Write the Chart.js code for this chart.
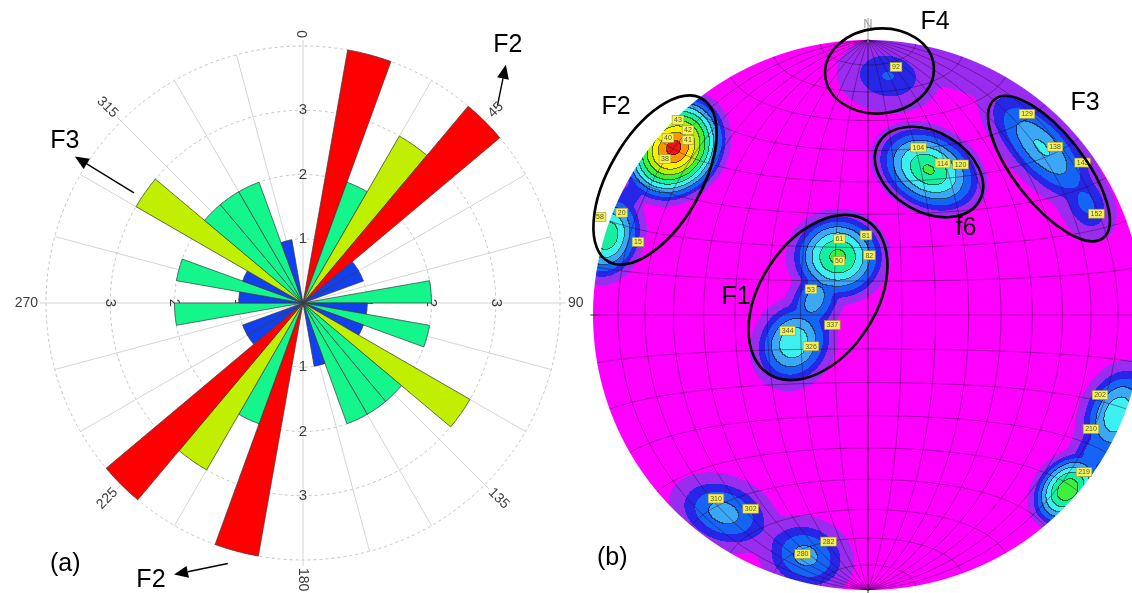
<!DOCTYPE html>
<html>
<head>
<meta charset="utf-8">
<script src="https://cdn.jsdelivr.net/npm/chart.js@4.4.1/dist/chart.umd.min.js"></script>
<style>
  html, body { margin: 0; padding: 0; width: 1132px; height: 593px; overflow: hidden; background: #fff; }
  canvas { position: absolute; top: 0; }
  #rose { left: 0; }
  #net { left: 590px; }
  .panel { position: absolute; font: 25px "Liberation Sans", Arial, sans-serif; color: #000; }
</style>
</head>
<body>
<canvas id="rose" width="606" height="593"></canvas>
<canvas id="net" width="553" height="593"></canvas>
<div class="panel" style="left:50px; top:548px;">(a)</div>
<div class="panel" style="left:597px; top:542px;">(b)</div>
<script>
// ---------- (a) rose diagram of joint strikes, 10° bins clockwise from north ----------
const binLabels = ['0','10','20','30','40','50','60','70','80','90','100','110','120','130','140','150','160','170',
                   '180','190','200','210','220','230','240','250','260','270','280','290','300','310','320','330','340','350'];
const binCounts = [0, 4, 2, 3, 4, 1, 1, 0, 2, 1, 2, 1, 3, 2, 2, 2, 1, 0,
                   0, 4, 2, 3, 4, 1, 1, 0, 2, 1, 2, 1, 3, 2, 2, 2, 1, 0];
const countColors = ['#ffffff', '#1040f0', '#14f58c', '#c0f000', '#ff0000'];
const ringTicks = [1, 2, 3];
const compassTicks = [0, 45, 90, 135, 180, 225, 270, 315];

// arrows pointing out the main joint sets: [bearing°, radius in count units]
const roseArrows = [
  { text: 'F2', from: [44.5, 4.32], to: [40.4, 4.87], label: [38.5, 5.12] },
  { text: 'F3', from: [303.1, 3.14], to: [302.7, 4.22], label: [304.2, 4.48] },
  { text: 'F2', from: [196.1, 4.22], to: [205.4, 4.68], label: [208.75, 4.92] }
];

const FONT = '"Liberation Sans", Arial, sans-serif';

function polarPoint(s, deg, val) {
  const r = s.getDistanceFromCenterForValue(val);
  const t = (deg - 90) * Math.PI / 180;
  return [s.xCenter + r * Math.cos(t), s.yCenter + r * Math.sin(t)];
}

function drawArrow(ctx, p0, p1) {
  const ang = Math.atan2(p1[1] - p0[1], p1[0] - p0[0]);
  const hl = 14, hw = 6;
  const bx = p1[0] - hl * Math.cos(ang), by = p1[1] - hl * Math.sin(ang);
  ctx.beginPath();
  ctx.moveTo(p0[0], p0[1]);
  ctx.lineTo(bx, by);
  ctx.stroke();
  ctx.beginPath();
  ctx.moveTo(p1[0], p1[1]);
  ctx.lineTo(bx + hw * Math.sin(ang), by - hw * Math.cos(ang));
  ctx.lineTo(bx - hw * Math.sin(ang), by + hw * Math.cos(ang));
  ctx.closePath();
  ctx.fill();
}

const roseDecor = {
  id: 'roseDecor',
  beforeDatasetsDraw(chart) {
    const s = chart.scales.r, ctx = chart.ctx;
    ctx.save();
    // spokes every 15°
    ctx.strokeStyle = '#d4d4d4';
    ctx.lineWidth = 1;
    for (let a = 0; a < 360; a += 15) {
      const labelled = compassTicks.includes(a);
      const p = polarPoint(s, a, s.max + (labelled ? 6 / 64.25 : 0));
      ctx.beginPath();
      ctx.moveTo(s.xCenter, s.yCenter);
      ctx.lineTo(p[0], p[1]);
      ctx.stroke();
    }
    // ring values along the four main directions
    ctx.fillStyle = '#3c3c3c';
    ctx.font = '15px ' + FONT;
    ctx.textAlign = 'center';
    ctx.textBaseline = 'middle';
    for (const v of ringTicks) {
      for (const a of [0, 90, 180, 270]) {
        const p = polarPoint(s, a, v);
        ctx.save();
        ctx.translate(p[0], p[1]);
        if (a === 90 || a === 270) ctx.rotate(Math.PI / 2);
        ctx.fillText(String(v), 0, 0);
        ctx.restore();
      }
    }
    ctx.restore();
  },
  afterDatasetsDraw(chart) {
    const s = chart.scales.r, ctx = chart.ctx;
    const R = s.getDistanceFromCenterForValue(s.max);
    ctx.save();
    // compass bearings, written along the radius
    ctx.fillStyle = '#3c3c3c';
    ctx.font = '14px ' + FONT;
    ctx.textAlign = 'center';
    ctx.textBaseline = 'middle';
    for (const a of compassTicks) {
      const txt = String(a);
      const w = ctx.measureText(txt).width;
      const r = R + 8 + w / 2;
      const t = (a - 90) * Math.PI / 180;
      let rot = a - 90;
      if (rot > 90) rot -= 180;
      if (rot < -90) rot += 180;
      ctx.save();
      ctx.translate(s.xCenter + r * Math.cos(t), s.yCenter + r * Math.sin(t));
      ctx.rotate(rot * Math.PI / 180);
      ctx.fillText(txt, 0, 0);
      ctx.restore();
    }
    // joint set arrows
    ctx.strokeStyle = '#000';
    ctx.fillStyle = '#000';
    ctx.lineWidth = 1.4;
    ctx.font = '25px ' + FONT;
    for (const ar of roseArrows) {
      drawArrow(ctx, polarPoint(s, ar.from[0], ar.from[1]), polarPoint(s, ar.to[0], ar.to[1]));
      const lp = polarPoint(s, ar.label[0], ar.label[1]);
      ctx.fillText(ar.text, lp[0], lp[1]);
    }
    ctx.restore();
  }
};

new Chart(document.getElementById('rose'), {
  type: 'polarArea',
  data: {
    labels: binLabels,
    datasets: [{
      data: binCounts,
      backgroundColor: binCounts.map(c => countColors[c]),
      borderColor: '#3a3a3a',
      borderWidth: 0.7
    }]
  },
  options: {
    responsive: false,
    animation: false,
    events: [],
    layout: { padding: { left: 46, right: 46, top: 46, bottom: 33 } },
    plugins: { legend: { display: false }, tooltip: { enabled: false } },
    scales: {
      r: {
        min: 0, max: 4, startAngle: 0,
        ticks: { display: false, stepSize: 1 },
        grid: { circular: true, color: '#c4c4c4', lineWidth: 1 },
        border: { dash: [3, 3] },
        angleLines: { display: false },
        pointLabels: { display: false }
      }
    }
  },
  plugins: [roseDecor]
});

// ---------- (b) pole density on the lower-hemisphere equal-area net ----------
// density peaks (net coordinates, primitive radius = 1): peak contour level,
// semi-axes where the density fades out, and tilt of the long axis
const densX    = [-0.7055, -0.9491, -0.8655, 0.0727, 0.2218, 0.6327, 0.7927, -0.1091, -0.2691, -0.1927, -0.5236, -0.2255, -0.3636, 0.9091, 0.7273, 0.8255, 0.3345];
const densY    = [ 0.6073,  0.2873,  0.4327, 0.8691, 0.5273, 0.6073, 0.4073,  0.2109, -0.1018,  0.0545, -0.72,   -0.8764, -0.7964, -0.3636, -0.6364, -0.4982, 0.8909];
const densPeak = [ 11.5,    7.0,     3.0,    3.1,    7.2,    5.2,    3.4,     7.4,     6.0,     4.7,     4.6,     4.5,     1.8,     6.0,     8.0,     3.8,    1.5];
const densA    = [ 0.2327,  0.1891,  0.1236, 0.2036, 0.2327, 0.3273, 0.16,    0.1964,  0.1891,  0.1745,  0.2182,  0.1891,  0.1236,  0.2182,  0.1745,  0.16,   0.2727];
const densB    = [ 0.1964,  0.1455,  0.0655, 0.1455, 0.1673, 0.1382, 0.1091,  0.1818,  0.16,    0.1091,  0.1455,  0.1527,  0.08,    0.1527,  0.1309,  0.1018, 0.0873];
const densTilt = [ 49,      73,      55,     -8,     -28,    -47,    -65,     0,       60,      63,      -20,     -20,     -30,     68,      49,      60,     -21];

// contour band colours, lowest to highest
const bandColors = ['#ff00ff', '#9a2cf0', '#2626e6', '#1464f5', '#3ca8f5', '#3cf0f0',
                    '#14f0a0', '#3cf03c', '#b4f000', '#faf000', '#ff9600', '#f01414'];

// numbered poles
const poleIds = ['43', '42', '41', '40', '38', '58', '20', '15', '92', '104', '114', '120',
                 '129', '138', '145', '152', '61', '81', '82', '50', '53', '337', '344', '326',
                 '310', '302', '282', '280', '202', '210', '219'];
const poleX = [-0.6909, -0.6545, -0.6545, -0.7273, -0.7382, -0.9745, -0.8956, -0.8364, 0.1018, 0.1833, 0.2713, 0.3364,
               0.5782, 0.68, 0.7804, 0.8305, -0.1044, -0.0073, 0.0047, -0.1055, -0.2073, -0.1298, -0.292, -0.2073,
               -0.5527, -0.4265, -0.1436, -0.2378, 0.8436, 0.8109, 0.7855];
const poleY = [0.7091, 0.6727, 0.6364, 0.6436, 0.5673, 0.3564, 0.372, 0.2655, 0.9018, 0.6091, 0.5513, 0.5473,
               0.7309, 0.612, 0.5542, 0.3684, 0.2764, 0.2898, 0.2171, 0.1964, 0.0935, -0.0364, -0.0571, -0.1138,
               -0.6673, -0.7044, -0.824, -0.8691, -0.2909, -0.4145, -0.5709];

// outlined pole groups: centre, semi-axes, tilt (deg, counter-clockwise), label anchor
const groupNames = ['F4', 'F2', 'F1', 'f6', 'F3'];
const groupCx    = [0.0418, -0.7745, -0.1818, 0.2218, 0.6582];
const groupCy    = [0.8873,  0.4909,  0.0636, 0.52,   0.5327];
const groupA     = [0.1982,  0.3418,  0.3309, 0.2109, 0.32];
const groupB     = [0.1545,  0.1673,  0.2109, 0.1455, 0.1273];
const groupTilt  = [5, 60, 57, -30, -52];
const groupLx    = [0.2436, -0.9164, -0.48,  0.3564, 0.7891];
const groupLy    = [1.0655,  0.7564,  0.0655, 0.3164, 0.7709];

function hexRgb(h) {
  return [parseInt(h.slice(1, 3), 16), parseInt(h.slice(3, 5), 16), parseInt(h.slice(5, 7), 16)];
}

// contour level at a net point: smooth maximum of the peak profiles
function levelAt(x, y, ct, st) {
  const T = 0.35;
  let sum = 0;
  for (let k = 0; k < densX.length; k++) {
    const dx = x - densX[k], dy = y - densY[k];
    const u = (dx * ct[k] + dy * st[k]) / densA[k];
    const v = (-dx * st[k] + dy * ct[k]) / densB[k];
    const rho = Math.sqrt(u * u + v * v);
    if (rho > 1.6) continue;
    const lev = densPeak[k] * (1 - Math.pow(rho, 1.5));
    sum += Math.exp(lev / T);
  }
  return sum > 0 ? T * Math.log(sum) : -1;
}

// lowest contour sits close to zero density, the rest are whole levels
function bandOf(lev, top) {
  if (lev < 0.35) return 0;
  if (lev < 2) return 1;
  return Math.min(top, Math.floor(lev));
}

function drawDensity(chart) {
  const { ctx, chartArea: a, scales: { x: sx, y: sy } } = chart;
  const x0 = Math.floor(a.left), y0 = Math.floor(a.top);
  const W = Math.ceil(a.right) - x0, H = Math.ceil(a.bottom) - y0;
  const ppu = Math.abs(sx.getPixelForValue(1) - sx.getPixelForValue(0));
  const vx = new Float64Array(W), vy = new Float64Array(H);
  for (let i = 0; i < W; i++) vx[i] = sx.getValueForPixel(x0 + i + 0.5);
  for (let j = 0; j < H; j++) vy[j] = sy.getValueForPixel(y0 + j + 0.5);
  const ct = densTilt.map(t => Math.cos(t * Math.PI / 180));
  const st = densTilt.map(t => Math.sin(t * Math.PI / 180));
  const top = bandColors.length - 1;
  const band = new Int8Array(W * H).fill(-1);
  const cover = new Float32Array(W * H);
  for (let j = 0; j < H; j++) {
    for (let i = 0; i < W; i++) {
      const x = vx[i], y = vy[j];
      const r = Math.hypot(x, y);
      const c = Math.min(1, Math.max(0, (1 - r) * ppu + 0.5));
      if (c <= 0) continue;
      const idx = j * W + i;
      band[idx] = bandOf(levelAt(x, y, ct, st), top);
      cover[idx] = c;
    }
  }
  const rgb = bandColors.map(hexRgb);
  const img = ctx.createImageData(W, H);
  const px = img.data;
  for (let j = 0; j < H; j++) {
    for (let i = 0; i < W; i++) {
      const idx = j * W + i;
      const b = band[idx];
      if (b < 0) continue;
      let [r, g, bl] = rgb[b];
      const rt = i + 1 < W ? band[idx + 1] : b;
      const dn = j + 1 < H ? band[idx + W] : b;
      if ((rt >= 0 && rt !== b && Math.max(rt, b) >= 4) || (dn >= 0 && dn !== b && Math.max(dn, b) >= 4)) {
        r *= 0.45; g *= 0.45; bl *= 0.45;
      }
      px[4 * idx] = r; px[4 * idx + 1] = g; px[4 * idx + 2] = bl;
      px[4 * idx + 3] = Math.round(255 * cover[idx]);
    }
  }
  const off = document.createElement('canvas');
  off.width = W; off.height = H;
  off.getContext('2d').putImageData(img, 0, 0);
  ctx.drawImage(off, x0, y0);
}

// equal-area projection of a lower-hemisphere unit vector (east, north, down)
function project(e, n, d) {
  const k = 1 / Math.sqrt(1 + d);
  return [e * k, n * k];
}

function strokeNetPath(chart, pts) {
  const { ctx, scales: { x: sx, y: sy } } = chart;
  ctx.beginPath();
  pts.forEach(([x, y], i) => {
    const X = sx.getPixelForValue(x), Y = sy.getPixelForValue(y);
    if (i) ctx.lineTo(X, Y); else ctx.moveTo(X, Y);
  });
  ctx.stroke();
}

function drawNetGrid(chart) {
  const ctx = chart.ctx;
  const rad = Math.PI / 180;
  ctx.save();
  ctx.strokeStyle = 'rgba(45,0,55,0.55)';
  ctx.lineWidth = 0.8;
  // great circles striking N-S
  for (let dip = 10; dip <= 90; dip += 10) {
    for (const side of [1, -1]) {
      const pts = [];
      for (let l = 0; l <= 180; l += 2) {
        const L = l * rad, D = dip * rad;
        pts.push(project(side * Math.sin(L) * Math.cos(D), Math.cos(L), Math.sin(L) * Math.sin(D)));
      }
      strokeNetPath(chart, pts);
    }
  }
  // small circles about the N-S axis
  for (let al = 10; al <= 170; al += 10) {
    const pts = [];
    for (let f = 0; f <= 180; f += 2) {
      const A = al * rad, F = f * rad;
      pts.push(project(Math.sin(A) * Math.cos(F), Math.cos(A), Math.sin(A) * Math.sin(F)));
    }
    strokeNetPath(chart, pts);
  }
  ctx.restore();
}

const netDecor = {
  id: 'netDecor',
  beforeDatasetsDraw(chart) {
    drawDensity(chart);
    drawNetGrid(chart);
    const { ctx, scales: { x: sx, y: sy } } = chart;
    ctx.save();
    // north mark
    ctx.strokeStyle = '#9a9a9a';
    ctx.lineWidth = 1;
    ctx.beginPath();
    ctx.moveTo(sx.getPixelForValue(0), sy.getPixelForValue(1.08));
    ctx.lineTo(sx.getPixelForValue(0), sy.getPixelForValue(0.99));
    ctx.stroke();
    ctx.fillStyle = '#a0a0a0';
    ctx.font = '13px ' + FONT;
    ctx.textAlign = 'center';
    ctx.textBaseline = 'middle';
    ctx.fillText('N', sx.getPixelForValue(0), sy.getPixelForValue(1.055));
    ctx.strokeStyle = '#333';
    ctx.beginPath();
    ctx.moveTo(sx.getPixelForValue(0), sy.getPixelForValue(-0.98));
    ctx.lineTo(sx.getPixelForValue(0), sy.getPixelForValue(-1.02));
    ctx.stroke();
    ctx.beginPath();
    ctx.moveTo(sx.getPixelForValue(-1.01), sy.getPixelForValue(0));
    ctx.lineTo(sx.getPixelForValue(-0.98), sy.getPixelForValue(0));
    ctx.stroke();
    ctx.restore();
  },
  afterDatasetsDraw(chart) {
    const { ctx, scales: { x: sx, y: sy } } = chart;
    const ppu = Math.abs(sx.getPixelForValue(1) - sx.getPixelForValue(0));
    ctx.save();
    // pole number tags
    ctx.font = '7px ' + FONT;
    ctx.textAlign = 'center';
    ctx.textBaseline = 'middle';
    poleIds.forEach((id, i) => {
      const X = sx.getPixelForValue(poleX[i]), Y = sy.getPixelForValue(poleY[i]);
      const w = ctx.measureText(id).width + 4;
      ctx.fillStyle = '#f4f060';
      ctx.fillRect(X - w / 2, Y - 4.5, w, 9);
      ctx.strokeStyle = '#9a9a30';
      ctx.lineWidth = 0.6;
      ctx.strokeRect(X - w / 2, Y - 4.5, w, 9);
      ctx.fillStyle = '#5a5a20';
      ctx.fillText(id, X, Y + 0.5);
    });
    // group outlines and names
    ctx.strokeStyle = '#000';
    ctx.lineWidth = 2.6;
    ctx.fillStyle = '#000';
    ctx.font = '25px ' + FONT;
    groupNames.forEach((name, i) => {
      ctx.beginPath();
      ctx.ellipse(sx.getPixelForValue(groupCx[i]), sy.getPixelForValue(groupCy[i]),
                  groupA[i] * ppu, groupB[i] * ppu, -groupTilt[i] * Math.PI / 180, 0, 2 * Math.PI);
      ctx.stroke();
      ctx.fillText(name, sx.getPixelForValue(groupLx[i]), sy.getPixelForValue(groupLy[i]));
    });
    ctx.restore();
  }
};

new Chart(document.getElementById('net'), {
  type: 'scatter',
  data: {
    datasets: [{
      data: poleX.map((x, i) => ({ x, y: poleY[i] })),
      pointRadius: 0
    }]
  },
  options: {
    responsive: false,
    animation: false,
    events: [],
    layout: { padding: { left: 3, right: 0, top: 40, bottom: 3 } },
    plugins: { legend: { display: false }, tooltip: { enabled: false } },
    scales: {
      x: { type: 'linear', min: -1, max: 1, display: false },
      y: { type: 'linear', min: -1, max: 1, display: false }
    }
  },
  plugins: [netDecor]
});
</script>
</body>
</html>
